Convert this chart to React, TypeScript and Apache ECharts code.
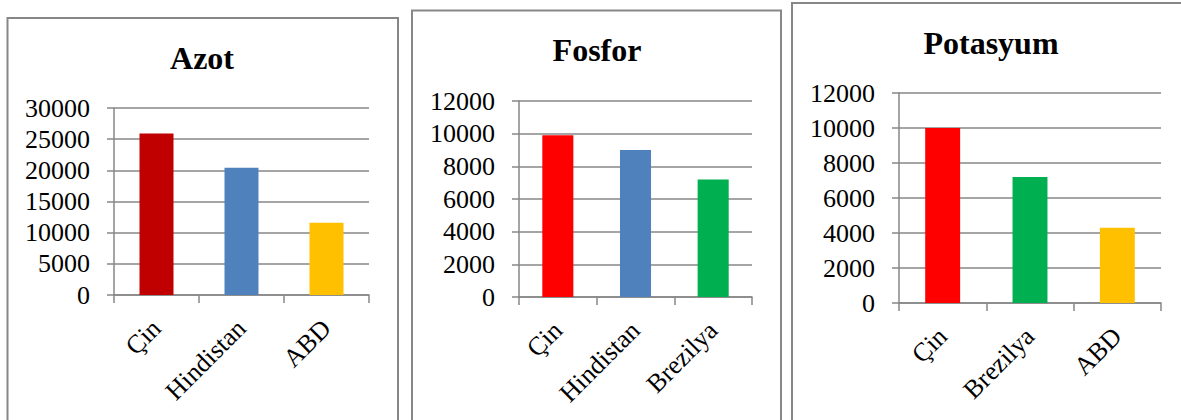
import React, { useEffect, useRef } from "react";
import * as echarts from "echarts";

const titles = ["Azot", "Fosfor", "Potasyum"];
const azotCategories = ["Çin", "Hindistan", "ABD"];
const azotValues = [25900, 20400, 11600];
const fosforCategories = ["Çin", "Hindistan", "Brezilya"];
const fosforValues = [9900, 9000, 7200];
const potasyumCategories = ["Çin", "Brezilya", "ABD"];
const potasyumValues = [10000, 7200, 4300];
const azotColors = ["#C00000", "#4F81BD", "#FFC000"];
const fosforColors = ["#FF0000", "#4F81BD", "#00B050"];
const potasyumColors = ["#FF0000", "#00B050", "#FFC000"];
const yMax = [30000, 12000, 12000];
const yInterval = [5000, 2000, 2000];

const FONT = "'Liberation Serif', 'Times New Roman', serif";
const GRAY = "#878787";

const grids = [
  { left: 114, top: 108, width: 255, height: 187 },
  { left: 519, top: 101, width: 233, height: 196 },
  { left: 899, top: 93, width: 262, height: 210 },
];
const titlePos = [
  [202, 58],
  [597, 50],
  [991, 43],
];
const borders = [
  { x: 7.5, y: 18, width: 390.5, height: 420 },
  { x: 412, y: 10.5, width: 369, height: 420 },
  { x: 792, y: 3, width: 400, height: 420 },
];

export default function App() {
  const ref = useRef<HTMLDivElement>(null);
  useEffect(() => {
    if (!ref.current) return;
    const chart = echarts.init(ref.current, null, { renderer: "svg" });
    const cats = [azotCategories, fosforCategories, potasyumCategories];
    const vals = [azotValues, fosforValues, potasyumValues];
    const cols = [azotColors, fosforColors, potasyumColors];
    chart.setOption({
      animation: false,
      backgroundColor: "#ffffff",
      grid: grids.map((g) => ({ ...g, containLabel: false })),
      xAxis: cats.map((c, i) => ({
        type: "category",
        gridIndex: i,
        data: c,
        axisLine: { show: true, lineStyle: { color: GRAY, width: 1.5 } },
        axisTick: { show: true, length: 8, lineStyle: { color: GRAY, width: 1.5 } },
        axisLabel: {
          rotate: 45,
          margin: 29,
          fontFamily: FONT,
          fontSize: 26,
          color: "#000",
        },
      })),
      yAxis: vals.map((_, i) => ({
        type: "value",
        gridIndex: i,
        min: 0,
        max: yMax[i],
        interval: yInterval[i],
        axisLine: { show: true, lineStyle: { color: GRAY, width: 1.5 } },
        axisTick: { show: true, length: 7, lineStyle: { color: GRAY, width: 1.5 } },
        splitLine: { show: true, lineStyle: { color: GRAY, width: 1.5 } },
        axisLabel: {
          margin: 24,
          fontFamily: FONT,
          fontSize: 26,
          color: "#000",
          formatter: (v: number) => String(v),
        },
      })),
      series: vals.map((v, i) => ({
        type: "bar",
        xAxisIndex: i,
        yAxisIndex: i,
        barCategoryGap: "60%",
        data: v.map((val, j) => ({ value: val, itemStyle: { color: cols[i][j] } })),
      })),
      graphic: [
        ...borders.map((b) => ({
          type: "rect",
          shape: b,
          style: { fill: "none", stroke: GRAY, lineWidth: 2 },
          silent: true,
        })),
        ...titles.map((t, i) => ({
          type: "text",
          x: titlePos[i][0],
          y: titlePos[i][1],
          style: {
            text: t,
            font: `bold 32px ${FONT}`,
            fill: "#000",
            textAlign: "center",
            textVerticalAlign: "middle",
          },
        })),
      ],
    });
    return () => chart.dispose();
  }, []);
  return (
    <div
      ref={ref}
      style={{ position: "fixed", left: 0, top: 0, width: 1181, height: 420 }}
    />
  );
}
